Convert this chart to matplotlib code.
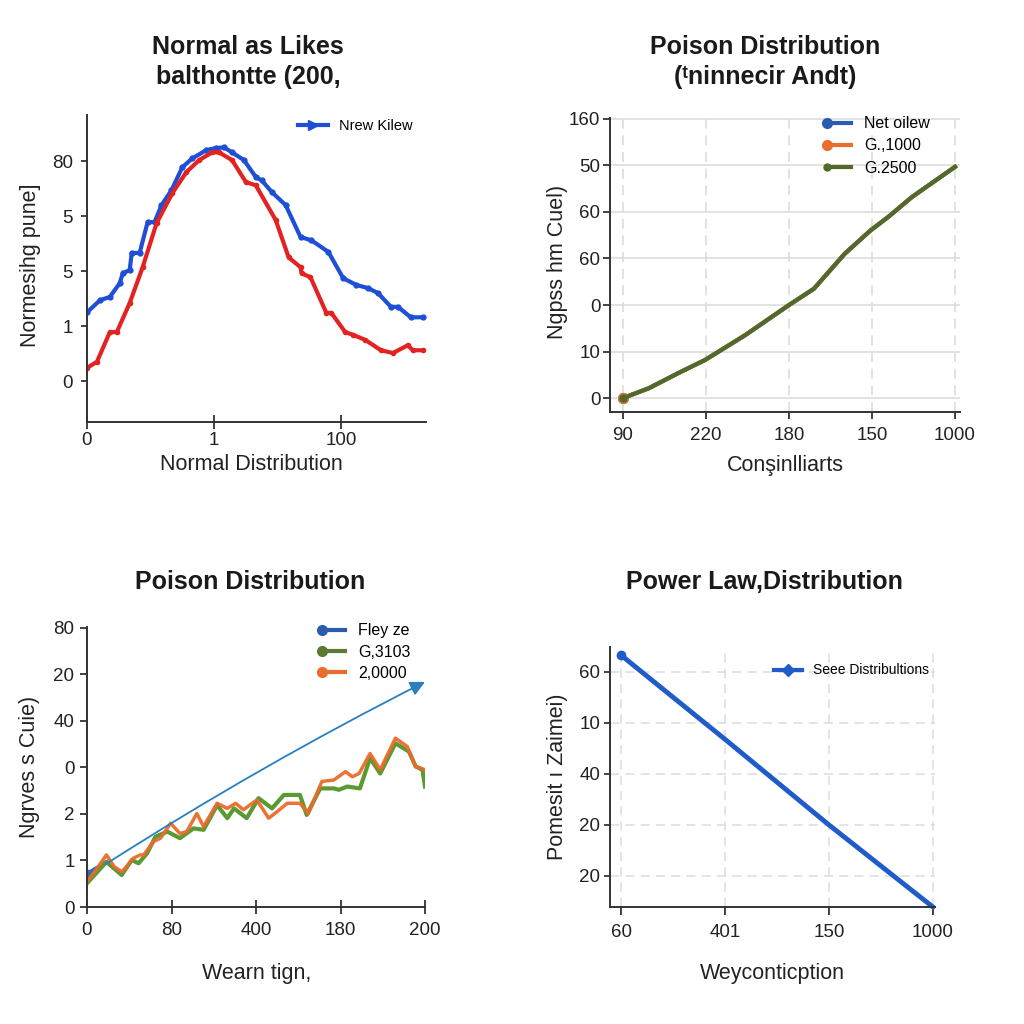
import matplotlib
matplotlib.use("Agg")
import matplotlib.pyplot as plt
from matplotlib.legend_handler import HandlerLine2D

plt.rcParams['font.family'] = ['Liberation Sans', 'DejaVu Sans']

# ---------------- Panel 1 data ----------------
p1_blue_x = [0, 3.05, 5.39, 7.73, 8.44, 10.08, 10.55, 12.42, 14.3, 15.94, 17.58, 19.92, 22.5, 24.84,
             28.13, 30.47, 32.34, 34.22, 37.03, 39.84, 41.25, 43.59, 46.88, 50.39, 52.97, 56.95,
             60.47, 63.52, 66.33, 68.67, 71.72, 73.36, 76.41, 79.22]
p1_blue_y = [1.25, 1.47, 1.53, 1.78, 1.96, 2.02, 2.33, 2.33, 2.89, 2.89, 3.2, 3.47, 3.89, 4.05,
             4.2, 4.24, 4.25, 4.16, 4.02, 3.71, 3.65, 3.44, 3.2, 2.62, 2.56, 2.35,
             1.87, 1.75, 1.69, 1.6, 1.35, 1.35, 1.16, 1.16]
p1_red_x = [0, 2.34, 5.39, 7.03, 10.08, 13.13, 16.41, 20.16, 23.44, 26.48, 29.53, 31.17, 34.22, 37.5,
            39.84, 44.53, 47.58, 50.39, 50.63, 52.73, 56.48, 57.66, 60.94, 62.81, 65.63, 69.38,
            72.19, 75.7, 76.88, 79.22]
p1_red_y = [0.24, 0.35, 0.89, 0.89, 1.42, 2.07, 2.87, 3.42, 3.8, 4.02, 4.16, 4.16, 4.02, 3.62,
            3.56, 2.93, 2.25, 2.07, 1.96, 1.89, 1.24, 1.24, 0.89, 0.84, 0.75, 0.56,
            0.51, 0.65, 0.56, 0.56]
p1_xticks = [0, 30, 60]
p1_xticklabels = ['0', '1', '100']
p1_yticks = [0, 1, 2, 3, 4]
p1_yticklabels = ['0', '1', '5', '5', '80']
p1_legend = 'Nrew Kilew'

# ---------------- Panel 2 data ----------------
p2_x = [0, 0.31, 0.67, 0.99, 1.47, 2.0, 2.30, 2.67, 2.98, 3.2, 3.48, 4.0]
p2_green = [0, 0.21, 0.54, 0.82, 1.35, 2.0, 2.35, 3.1, 3.6, 3.9, 4.32, 4.97]
p2_blue = [0, 0.21, 0.54, 0.82, 1.35, 2.0, 2.35, 3.1, 3.6, 3.9, 4.32, 4.97]
p2_orange = [0, 0.21, 0.54, 0.82, 1.35, 2.0, 2.35, 3.1, 3.6, 3.9, 4.32, 4.97]
p2_xticks = [0, 1, 2, 3, 4]
p2_xticklabels = ['90', '220', '180', '150', '1000']
p2_yticks = [0, 1, 2, 3, 4, 5, 6]
p2_yticklabels = ['0', '10', '0', '60', '60', '50', '160']
p2_legend = ['Net oilew', 'G.,1000', 'G.2500']

# ---------------- Panel 3 data ----------------
p3_orange_x = [0, 0.12, 0.23, 0.32, 0.41, 0.45, 0.55, 0.63, 0.67, 0.79, 0.87, 0.99, 1.10, 1.18,
               1.30, 1.38, 1.54, 1.66, 1.76, 1.85, 2.01, 2.15, 2.25, 2.37, 2.52, 2.62, 2.78,
               2.92, 3.06, 3.14, 3.22, 3.35, 3.47, 3.65, 3.79, 3.89, 4.0]
p3_orange_y = [0.54, 0.83, 1.12, 0.87, 0.76, 0.83, 1.05, 1.12, 1.12, 1.41, 1.48, 1.8, 1.58, 1.62,
               2.01, 1.73, 2.23, 2.12, 2.23, 2.09, 2.3, 1.91, 2.05, 2.23, 2.23, 2.01, 2.7,
               2.73, 2.91, 2.8, 2.87, 3.3, 2.95, 3.63, 3.45, 3.02, 2.95]
p3_green_x = [0, 0.23, 0.41, 0.53, 0.61, 0.71, 0.81, 0.95, 1.10, 1.26, 1.38, 1.54, 1.66, 1.74,
              1.89, 2.03, 2.19, 2.33, 2.52, 2.60, 2.76, 2.92, 2.98, 3.08, 3.23, 3.35, 3.47,
              3.65, 3.81, 3.89, 3.97, 4.0]
p3_green_y = [0.51, 0.97, 0.69, 1.01, 0.94, 1.15, 1.51, 1.62, 1.48, 1.69, 1.66, 2.19, 1.91, 2.12,
              1.91, 2.34, 2.12, 2.41, 2.41, 1.98, 2.55, 2.55, 2.52, 2.59, 2.55, 3.2, 2.87,
              3.52, 3.34, 3.02, 2.95, 2.59]
p3_blue_x = [0, 0.23, 0.41]
p3_blue_y = [0.72, 0.97, 0.69]
p3_arrow_start = (0.22, 0.92)
p3_arrow_end = (4.0, 4.84)
p3_xticks = [0, 1, 2, 3, 4]
p3_xticklabels = ['0', '80', '400', '180', '200']
p3_yticks = [0, 1, 2, 3, 4, 5, 6]
p3_yticklabels = ['0', '1', '2', '0', '40', '20', '80']
p3_legend = ['Fley ze', 'G,3103', '2,0000']

# ---------------- Panel 4 data ----------------
p4_x = [0, 1, 2, 3]
p4_y = [4.33, 2.68, 1.0, -0.61]
p4_xticks = [0, 1, 2, 3]
p4_xticklabels = ['60', '401', '150', '1000']
p4_yticks = [0, 1, 2, 3, 4]
p4_yticklabels = ['20', '20', '40', '10', '60']
p4_legend = 'Seee Distribultions'

# ---------------- Styling ----------------
BLUE1 = '#1f4fd6'
RED1 = '#e32222'
OLIVE = '#4f6a2a'
BLUE3 = '#2a6fbf'
GREEN3 = '#5b9a32'
ORANGE3 = '#ea6b2b'
BLUE4 = '#1f5cc9'
TITLE_FS = 18
LABEL_FS = 15.5
TICK_FS = 13.5


class LeftMarkerHandler(HandlerLine2D):
    def create_artists(self, legend, orig_handle, xdescent, ydescent, width, height, fontsize, trans):
        artists = super().create_artists(legend, orig_handle, xdescent, ydescent, width, height,
                                         fontsize, trans)
        for a in artists:
            a.set_markevery([0])
        return artists


def px_axes(fig, x0, y0, x1, y1):
    W = H = 1024
    return fig.add_axes([x0 / W, (H - y1) / H, (x1 - x0) / W, (y1 - y0) / H])


def base_style(ax):
    ax.spines['top'].set_visible(False)
    ax.spines['right'].set_visible(False)
    for s in ('left', 'bottom'):
        ax.spines[s].set_color('#333333')
        ax.spines[s].set_linewidth(1.4)
    ax.tick_params(labelsize=TICK_FS, colors='#222222', length=5, width=1.2)


fig = plt.figure(figsize=(10.24, 10.24), dpi=100)
fig.patch.set_facecolor('white')

# ================= Panel 1 =================
ax1 = px_axes(fig, 87, 115, 426, 422)
base_style(ax1)
ax1.plot(p1_blue_x, p1_blue_y, color=BLUE1, lw=3, marker='o', ms=3.5, label=p1_legend)
ax1.plot(p1_red_x, p1_red_y, color=RED1, lw=3, marker='o', ms=3)
ax1.set_xlim(0, 80)
ax1.set_ylim(-0.745, 4.84)
ax1.set_xticks(p1_xticks, p1_xticklabels)
ax1.set_yticks(p1_yticks, p1_yticklabels)
ax1.tick_params(axis='x', direction='inout', length=10, pad=2)
ax1.tick_params(axis='y', direction='out', length=4, pad=6)
h1, = ax1.plot([], [], color=BLUE1, lw=3, marker='>', ms=7)
ax1.legend([h1], [p1_legend], loc='upper right', bbox_to_anchor=(1.0, 1.03), frameon=False,
           fontsize=10.5, handlelength=2.0, numpoints=1)
fig.text(248 / 1024, 1 - 62 / 1024, 'Normal as Likes\nbalthontte (200,', ha='center', va='center',
         fontsize=TITLE_FS, fontweight='bold', color='#1a1a1a', linespacing=1.3)
fig.text(31 / 1024, 1 - 265 / 1024, 'Normesihg pune]', rotation=90, ha='center', va='center',
         fontsize=LABEL_FS, color='#222222')
fig.text(251 / 1024, 1 - 464 / 1024, 'Normal Distribution', ha='center', va='center',
         fontsize=LABEL_FS, color='#222222')

# ================= Panel 2 =================
ax2 = px_axes(fig, 610, 118, 960, 412)
base_style(ax2)
ax2.grid(axis='y', color='#dddddd', lw=1.2, ls='-')
ax2.grid(axis='x', color='#dddddd', lw=1.2, ls=(0, (6, 4)))
l2b, = ax2.plot(p2_x, p2_blue, color='#2a5db0', lw=3, marker='o', ms=7, markevery=[0])
l2o, = ax2.plot(p2_x, p2_orange, color='#e8702a', lw=3, marker='o', ms=7, markevery=[0])
l2g, = ax2.plot(p2_x, p2_green, color=OLIVE, lw=3, marker='o', ms=5, markevery=[0])
ax2.set_xlim(-0.157, 4.06)
ax2.set_ylim(-0.3, 6.02)
ax2.set_xticks(p2_xticks, p2_xticklabels)
ax2.set_yticks(p2_yticks, p2_yticklabels)
ax2.tick_params(axis='x', direction='out', length=5, pad=6)
ax2.tick_params(axis='y', direction='out', length=5, pad=2)
ax2.legend([l2b, l2o, l2g], p2_legend, loc='upper right', bbox_to_anchor=(0.955, 1.055), frameon=False,
           fontsize=11.5, handlelength=1.5, handletextpad=0.8, labelspacing=0.45,
           handler_map={l2b: LeftMarkerHandler(), l2o: LeftMarkerHandler(), l2g: LeftMarkerHandler()})
fig.text(765 / 1024, 1 - 62 / 1024, 'Poison Distribution\n(ᵗninnecir Andt)', ha='center', va='center',
         fontsize=TITLE_FS, fontweight='bold', color='#1a1a1a', linespacing=1.3)
fig.text(557 / 1024, 1 - 262 / 1024, 'Ngpss hm Cuel)', rotation=90, ha='center', va='center',
         fontsize=LABEL_FS, color='#222222')
fig.text(785 / 1024, 1 - 466 / 1024, 'Conşinlliarts', ha='center', va='center',
         fontsize=LABEL_FS, color='#222222')

# ================= Panel 3 =================
ax3 = px_axes(fig, 87, 627, 425, 907)
base_style(ax3)
l3b, = ax3.plot(p3_blue_x, p3_blue_y, color=BLUE3, lw=2.5, marker='o', ms=6, markevery=[0])
l3g, = ax3.plot(p3_green_x, p3_green_y, color=GREEN3, lw=3)
l3o, = ax3.plot(p3_orange_x, p3_orange_y, color=ORANGE3, lw=2.5, alpha=0.95)
ax3.annotate('', xy=p3_arrow_end, xytext=p3_arrow_start, annotation_clip=False,
             arrowprops=dict(arrowstyle='-|>', color='#2a7fc0', lw=1.3, mutation_scale=22,
                             connectionstyle='arc3,rad=-0.025', shrinkA=0, shrinkB=0))
ax3.set_xlim(0, 4)
ax3.set_ylim(0, 6.02)
ax3.set_xticks(p3_xticks, p3_xticklabels)
ax3.set_yticks(p3_yticks, p3_yticklabels)
ax3.tick_params(axis='x', direction='inout', length=10, pad=6)
ax3.tick_params(axis='y', direction='out', length=5, pad=4)
hb, = ax3.plot([], [], color='#2a5db0', lw=3, marker='o', ms=7)
hg, = ax3.plot([], [], color='#5a7a35', lw=3, marker='o', ms=7)
ho, = ax3.plot([], [], color=ORANGE3, lw=3, marker='o', ms=7)
ax3.legend([hb, hg, ho], p3_legend, loc='upper right', bbox_to_anchor=(1.0, 1.065), frameon=False,
           fontsize=11.5, handlelength=1.5, handletextpad=0.8, labelspacing=0.4,
           handler_map={hb: LeftMarkerHandler(), hg: LeftMarkerHandler(), ho: LeftMarkerHandler()})
fig.text(250 / 1024, 1 - 582 / 1024, 'Poison Distribution', ha='center', va='center',
         fontsize=TITLE_FS, fontweight='bold', color='#1a1a1a')
fig.text(30 / 1024, 1 - 767 / 1024, 'Ngrves s Cuie)', rotation=90, ha='center', va='center',
         fontsize=LABEL_FS, color='#222222')
fig.text(257 / 1024, 1 - 973 / 1024, 'Wearn tign,', ha='center', va='center',
         fontsize=LABEL_FS, color='#222222')

# ================= Panel 4 =================
ax4 = px_axes(fig, 610, 647, 935, 907)
base_style(ax4)
ax4.grid(True, color='#dddddd', lw=1.1, ls=(0, (6, 4)))
ax4.plot(p4_x, p4_y, color=BLUE4, lw=3.5, marker='o', ms=6, markevery=[0], clip_on=False)
ax4.set_xlim(-0.106, 3.02)
ax4.set_ylim(-0.61, 4.49)
ax4.set_xticks(p4_xticks, p4_xticklabels)
ax4.set_yticks(p4_yticks, p4_yticklabels)
ax4.tick_params(axis='x', direction='out', length=6, pad=6)
ax4.tick_params(axis='y', direction='out', length=4, pad=3)
h4, = ax4.plot([], [], color=BLUE4, lw=3, marker='D', ms=6)
ax4.legend([h4], [p4_legend], loc='upper right', bbox_to_anchor=(1.02, 0.985), frameon=False,
           fontsize=10, handlelength=2.0, numpoints=1)
fig.text(764 / 1024, 1 - 582 / 1024, 'Power Law,Distribution', ha='center', va='center',
         fontsize=TITLE_FS, fontweight='bold', color='#1a1a1a')
fig.text(558 / 1024, 1 - 777 / 1024, 'Pomesit ı Zaimei)', rotation=90, ha='center', va='center',
         fontsize=LABEL_FS, color='#222222')
fig.text(772 / 1024, 1 - 973 / 1024, 'Weyconticption', ha='center', va='center',
         fontsize=LABEL_FS, color='#222222')

fig.savefig('out.png', dpi=100, facecolor='white')
